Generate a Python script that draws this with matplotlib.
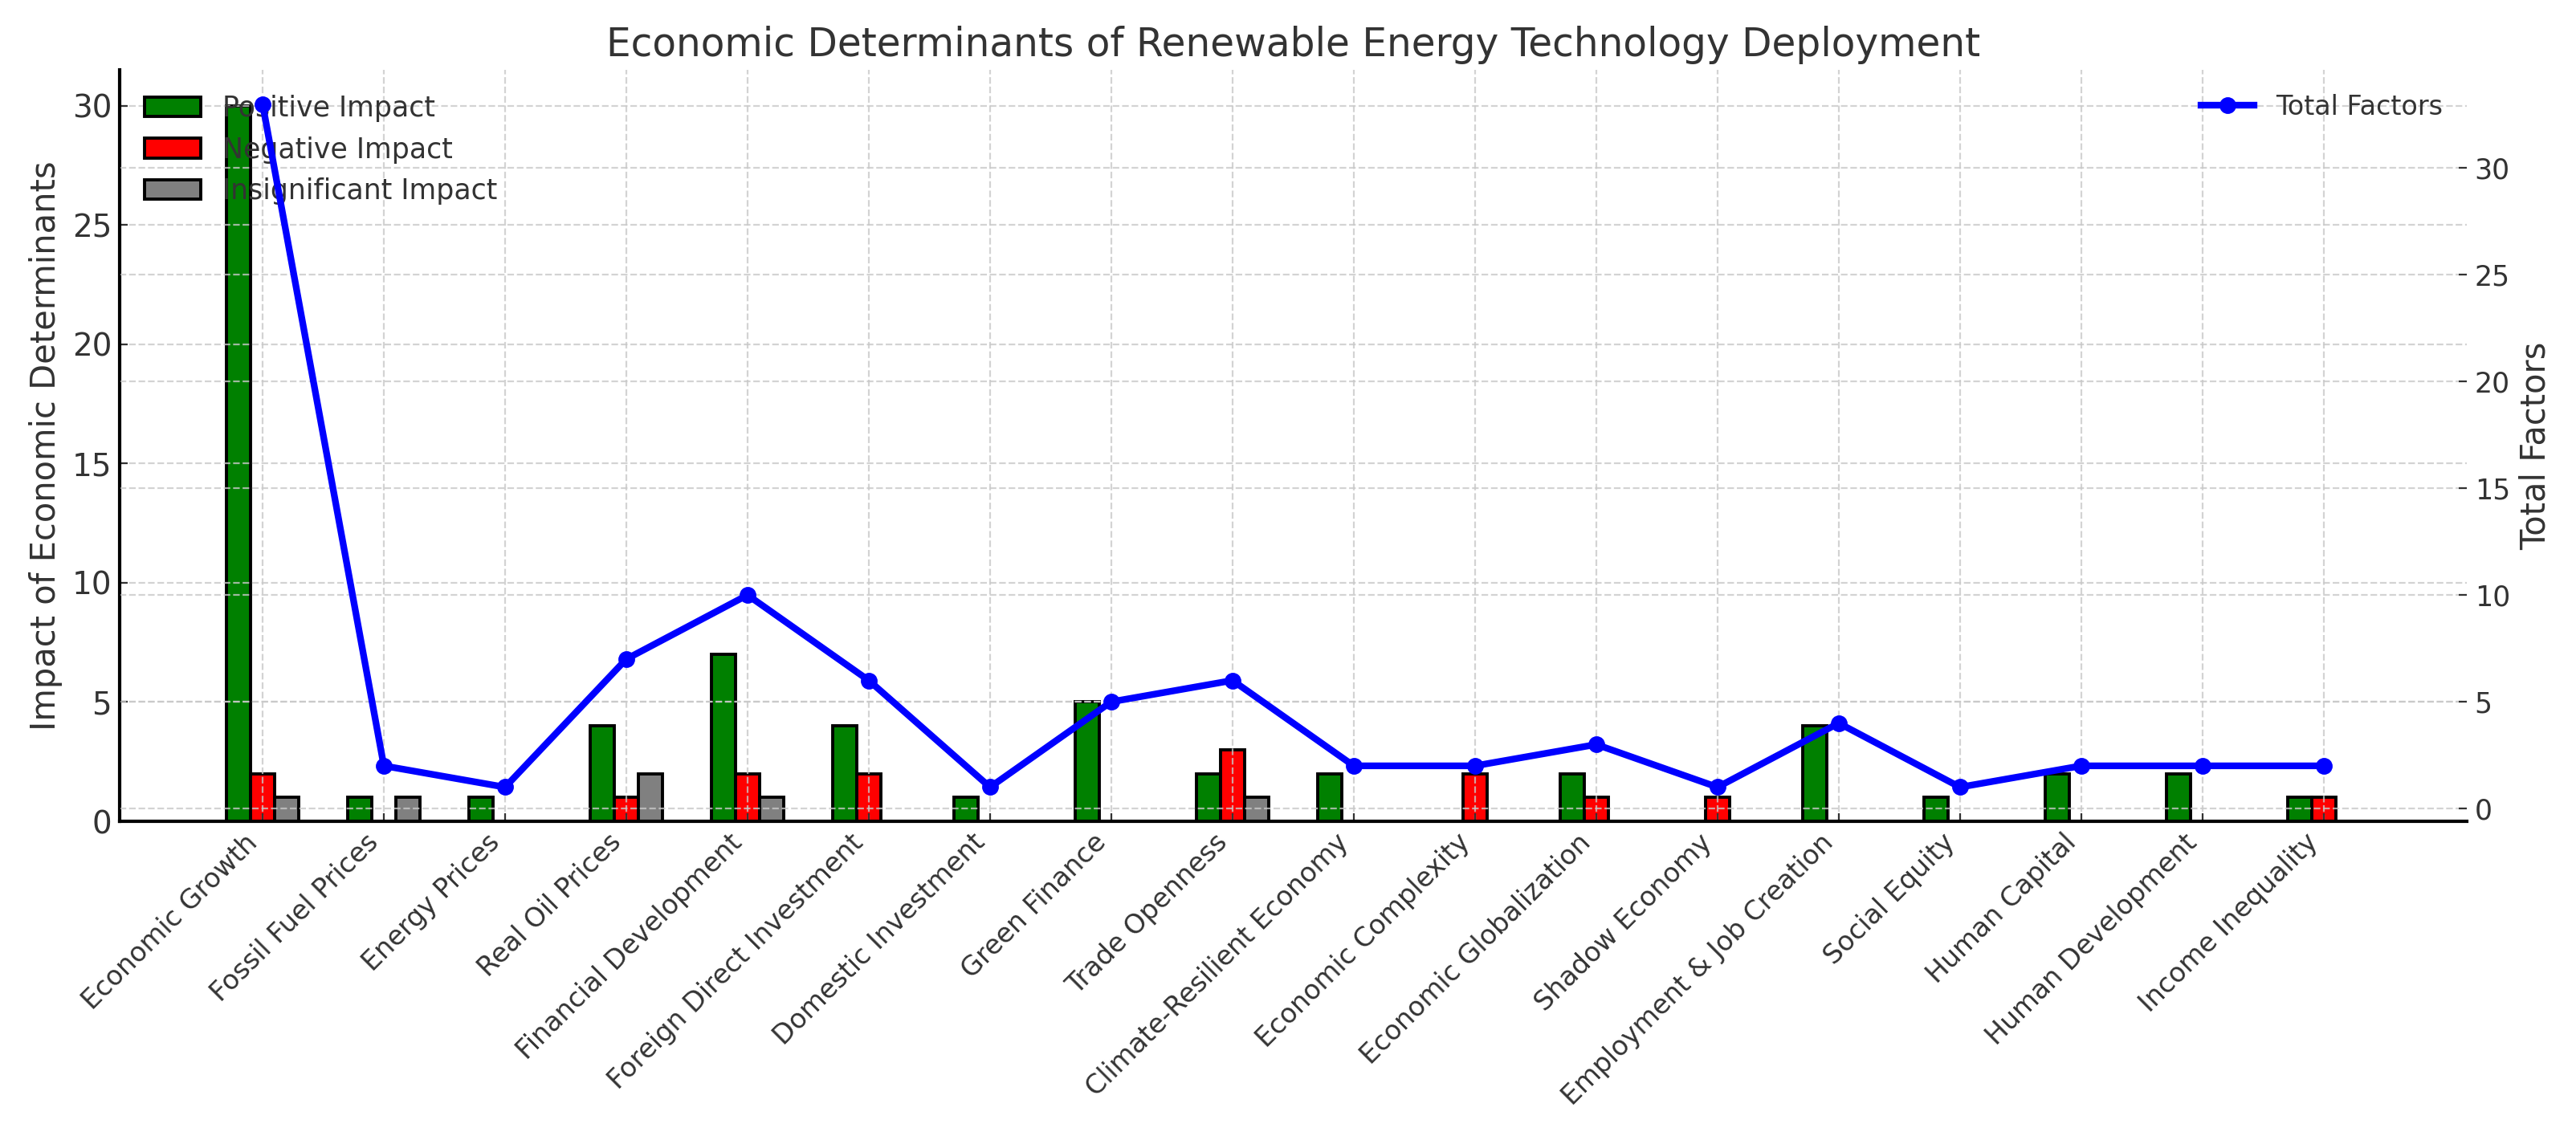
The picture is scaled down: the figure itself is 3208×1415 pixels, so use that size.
import numpy as np
import matplotlib
matplotlib.use("Agg")
import matplotlib.pyplot as plt

# data
categories = [
    "Economic Growth", "Fossil Fuel Prices", "Energy Prices", "Real Oil Prices",
    "Financial Development", "Foreign Direct Investment", "Domestic Investment",
    "Green Finance", "Trade Openness", "Climate-Resilient Economy",
    "Economic Complexity", "Economic Globalization", "Shadow Economy",
    "Employment & Job Creation", "Social Equity", "Human Capital",
    "Human Development", "Income Inequality",
]
positive = [30, 1, 1, 4, 7, 4, 1, 5, 2, 2, 0, 2, 0, 4, 1, 2, 2, 1]
negative = [2, 0, 0, 1, 2, 2, 0, 0, 3, 0, 2, 1, 1, 0, 0, 0, 0, 1]
insignificant = [1, 1, 0, 2, 1, 0, 0, 0, 1, 0, 0, 0, 0, 0, 0, 0, 0, 0]
total = [33, 2, 1, 7, 10, 6, 1, 5, 6, 2, 2, 3, 1, 4, 1, 2, 2, 2]

plt.rcParams["text.color"] = "#333333"
plt.rcParams["axes.labelcolor"] = "#333333"
plt.rcParams["xtick.color"] = "#333333"
plt.rcParams["ytick.color"] = "#333333"
plt.rcParams["xtick.direction"] = "in"
plt.rcParams["ytick.direction"] = "in"

x = np.arange(len(categories))
w = 0.2

fig = plt.figure(figsize=(16.04, 7.075), dpi=200)
ax1 = fig.add_axes([0.0464, 0.277, 0.9112, 0.6615])

ax1.bar(x - w, positive, w, color="green", edgecolor="black", linewidth=1.4, label="Positive Impact")
ax1.bar(x, negative, w, color="red", edgecolor="black", linewidth=1.4, label="Negative Impact")
ax1.bar(x + w, insignificant, w, color="gray", edgecolor="black", linewidth=1.4, label="Insignificant Impact")

ax1.set_ylabel("Impact of Economic Determinants", fontsize=15)
ax1.set_title("Economic Determinants of Renewable Energy Technology Deployment", fontsize=17.5)
ax1.set_xticks(x)
ax1.set_xticklabels(categories, rotation=45, ha="right", fontsize=12)
ax1.tick_params(axis="y", labelsize=14)
ax1.grid(True, linestyle="--", color="#c8c8c8", alpha=0.8)
ax1.legend(loc="upper left", fontsize=12.5, frameon=False)

ax2 = ax1.twinx()
ax2.plot(x, total, color="blue", marker="o", linewidth=3, markersize=6.5, label="Total Factors")
ax2.set_ylabel("Total Factors", fontsize=15)
ax2.tick_params(axis="y", labelsize=12.5)
ax2.grid(True, linestyle="--", color="#c8c8c8", alpha=0.8)
ax2.legend(loc="upper right", fontsize=12, frameon=False)

for ax in (ax1, ax2):
    ax.spines["top"].set_visible(False)
    ax.spines["right"].set_visible(False)
ax1.spines["left"].set_linewidth(1.5)
ax1.spines["bottom"].set_linewidth(1.5)

fig.savefig("out.png", dpi=200)
